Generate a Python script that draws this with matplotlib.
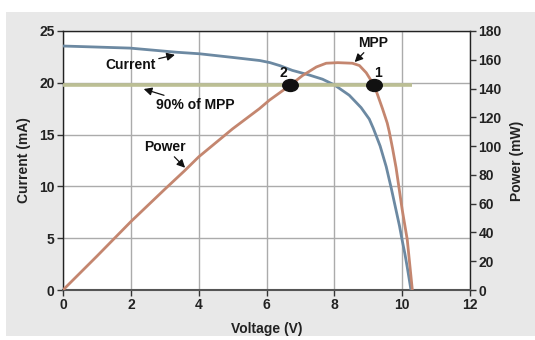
import numpy as np
import matplotlib
matplotlib.use("Agg")
import matplotlib.pyplot as plt
from matplotlib.patches import Rectangle
from matplotlib.path import Path

# ---- data ----
volt_i = [0, 1, 1.97, 3.35, 4.03, 5.0, 5.8, 6.1, 6.4, 6.76, 7.26, 7.65, 8.0, 8.44, 8.79,
          9.03, 9.15, 9.35, 9.53, 9.68, 9.82, 9.92, 10.0, 10.08, 10.15, 10.26]
current = [23.55, 23.45, 23.35, 22.95, 22.8, 22.45, 22.15, 21.95, 21.65, 21.2, 20.75, 20.35,
           19.8, 18.8, 17.6, 16.5, 15.6, 13.9, 11.9, 9.8, 7.7, 6.2, 4.8, 3.5, 2.2, 0.0]

volt_p = [0, 1, 2, 3, 3.59, 4, 5, 5.79, 6.09, 6.68, 7.06, 7.47, 7.76, 8.1, 8.53, 8.74,
          8.94, 9.18, 9.3, 9.42, 9.56, 9.62, 9.72, 9.82, 10.0, 10.15, 10.3]
power = [0, 23.5, 47.5, 70, 83, 92.5, 112, 126, 132, 142, 149, 155, 157.6, 158, 157.6, 156,
         151, 142, 134, 126, 116, 110, 98, 85, 56, 35, 0]

x_ticks = [0, 2, 4, 6, 8, 10, 12]
i_ticks = [0, 5, 10, 15, 20, 25]
p_ticks = [0, 20, 40, 60, 80, 100, 120, 140, 160, 180]

FONT = "Liberation Sans"
plt.rcParams["font.family"] = [FONT, "DejaVu Sans"]
plt.rcParams["font.weight"] = "bold"

W, H = 535, 340
fig = plt.figure(figsize=(W / 100, H / 100), dpi=100, facecolor="white")
fig.patches.append(Rectangle((6 / W, 4 / H), 1 - 6 / W, (336 - 12) / H,
                             transform=fig.transFigure, facecolor="#e8e8e8",
                             edgecolor="none", zorder=-10))

ax = fig.add_axes([63 / W, 50 / H, (470 - 63) / W, (290 - 31) / H])
ax.set_facecolor("white")
ax.set_xlim(0, 12)
ax.set_ylim(0, 25)
ax.set_xticks(x_ticks)
ax.set_yticks(i_ticks)
ax.grid(True, color="#ababab", linewidth=1.0)
ax.set_axisbelow(True)
for s in ax.spines.values():
    s.set_color("#222222")
    s.set_linewidth(1.0)
ax.spines["bottom"].set_color("#555555")
ax.spines["bottom"].set_linewidth(1.5)
ax.tick_params(axis="both", labelsize=10, length=4, width=1, color="#333333",
               labelcolor="#222222", pad=2)
for lab in ax.get_xticklabels() + ax.get_yticklabels():
    lab.set_fontweight("bold")

ax2 = ax.twinx()
ax2.set_ylim(0, 180)
ax2.set_yticks(p_ticks)
ax2.tick_params(axis="y", labelsize=10, length=4, width=1, color="#333333",
                labelcolor="#222222", pad=2)
for lab in ax2.get_yticklabels():
    lab.set_fontweight("bold")
for s in ax2.spines.values():
    s.set_visible(False)

# curves
ax.plot(volt_i, current, color="#6c89a2", linewidth=2.0, zorder=3)

mpp = max(power)
thresh = 0.9 * mpp
ax2.hlines(thresh, volt_p[0], volt_p[-1], color="#bcbf94", linewidth=2.6, zorder=2)
ax2.plot(volt_p, power, color="#c4866f", linewidth=2.0, zorder=3)

# 90% crossing points
pk = int(np.argmax(power))
vp = np.array(volt_p, dtype=float)
pp = np.array(power, dtype=float)
v2 = np.interp(thresh, pp[:pk + 1], vp[:pk + 1])
v1 = np.interp(thresh, pp[pk:][::-1], vp[pk:][::-1])
circ = Path.unit_circle()
ell = Path(circ.vertices * np.array([1.3, 1.0]), circ.codes)
ax2.scatter([v2, v1], [thresh, thresh], marker=ell, s=125, color="#111111", zorder=5)

# annotations
ap = dict(arrowstyle="-|>", color="#111111", lw=0.9, mutation_scale=12, shrinkA=0, shrinkB=0)
tk = dict(fontsize=10, fontweight="bold", color="#111111")
ax.annotate("Current", xy=(3.3, 22.7), xytext=(2.0, 21.7), ha="center", va="center",
            arrowprops=ap, **tk)
ax.annotate("90% of MPP", xy=(2.38, 19.4), xytext=(2.75, 17.85), ha="left", va="center",
            arrowprops=ap, **tk)
ax.annotate("Power", xy=(3.6, 11.8), xytext=(3.0, 13.8), ha="center", va="center",
            arrowprops=ap, **tk)
ax.annotate("MPP", xy=(8.6, 22.0), xytext=(9.15, 23.85), ha="center", va="center",
            arrowprops=ap, **tk)
ax.text(6.5, 20.9, "2", ha="center", va="center", **tk)
ax.text(9.28, 20.9, "1", ha="center", va="center", **tk)

ax.set_xlabel("Voltage (V)", fontsize=10, fontweight="bold", color="#222222", labelpad=7)
ax.set_ylabel("Current (mA)", fontsize=10, fontweight="bold", color="#222222", labelpad=6)
ax2.set_ylabel("Power (mW)", fontsize=10, fontweight="bold", color="#222222", labelpad=6)

fig.savefig("out.png", dpi=100, facecolor="white")
